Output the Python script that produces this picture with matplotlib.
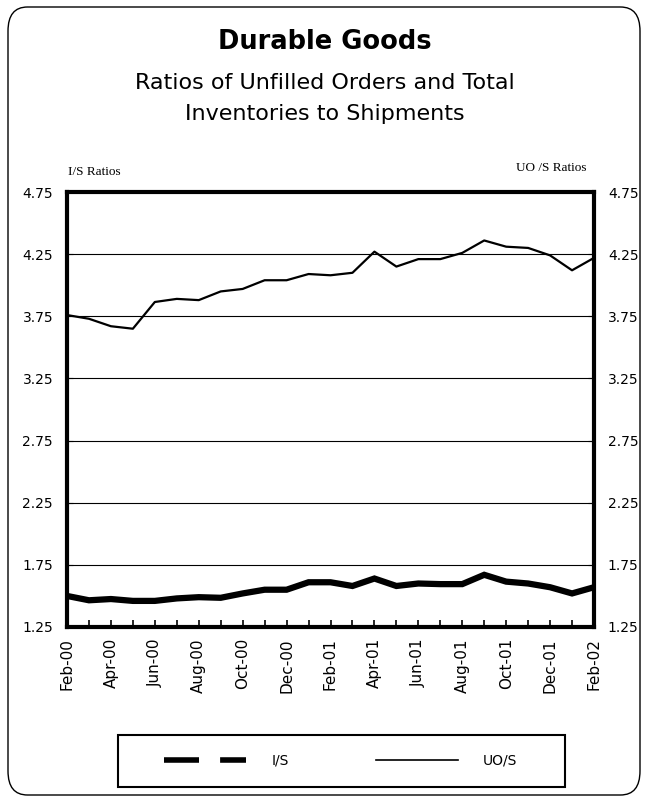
import numpy as np
import matplotlib.pyplot as plt
from matplotlib.lines import Line2D
from matplotlib.patches import FancyBboxPatch, Rectangle

months = ['Feb-00', 'Mar-00', 'Apr-00', 'May-00', 'Jun-00', 'Jul-00', 'Aug-00',
          'Sep-00', 'Oct-00', 'Nov-00', 'Dec-00', 'Jan-01', 'Feb-01', 'Mar-01',
          'Apr-01', 'May-01', 'Jun-01', 'Jul-01', 'Aug-01', 'Sep-01', 'Oct-01',
          'Nov-01', 'Dec-01', 'Jan-02', 'Feb-02']
uo_s = [3.76, 3.73, 3.67, 3.65, 3.865, 3.89, 3.88, 3.95, 3.97, 4.04, 4.04, 4.09,
        4.08, 4.10, 4.27, 4.15, 4.21, 4.21, 4.26, 4.36, 4.31, 4.30, 4.24, 4.12, 4.22]
i_s = [1.50, 1.465, 1.475, 1.46, 1.46, 1.48, 1.49, 1.485, 1.52, 1.55, 1.55, 1.61,
       1.61, 1.58, 1.64, 1.58, 1.60, 1.595, 1.595, 1.67, 1.615, 1.60, 1.57, 1.52, 1.57]
yticks = [1.25, 1.75, 2.25, 2.75, 3.25, 3.75, 4.25, 4.75]

W, H = 649, 801
fig = plt.figure(figsize=(W / 100, H / 100), dpi=100)

# rounded border round the whole figure
border = FancyBboxPatch((8 / W, 6 / H), 632 / W, 788 / H,
                        boxstyle='round,pad=0,rounding_size=0.03',
                        transform=fig.transFigure, fill=False, lw=1, ec='black')
fig.patches.append(border)

fig.text(0.5, 1 - 42 / H, 'Durable Goods', ha='center', va='center',
         fontsize=18.5, fontweight='bold')
fig.text(0.5, 1 - 83 / H, 'Ratios of Unfilled Orders and Total', ha='center',
         va='center', fontsize=16)
fig.text(0.5, 1 - 114 / H, 'Inventories to Shipments', ha='center',
         va='center', fontsize=16)
fig.text(68 / W, 1 - 172 / H, 'I/S Ratios', ha='left', va='center',
         fontsize=9.5, family='Liberation Serif')
fig.text(587 / W, 1 - 168 / H, 'UO /S Ratios', ha='right', va='center',
         fontsize=9.5, family='Liberation Serif')

ax = fig.add_axes([67 / W, 1 - 627 / H, 527 / W, 435 / H])
x = np.arange(len(months))
ax.plot(x, i_s, color='black', lw=4.5, solid_joinstyle='miter')
ax.plot(x, uo_s, color='black', lw=1.6)

ax.set_xlim(0, len(months) - 1)
ax.set_ylim(1.25, 4.75)
ax.set_yticks(yticks)
ax.set_yticklabels([f'{v:.2f}' for v in yticks])
ax.tick_params(axis='y', labelsize=10, length=4, direction='in',
               left=True, right=True, labelleft=True, labelright=True, pad=10)
ax.set_xticks(x[::2])
ax.set_xticklabels(months[::2], rotation=90, fontsize=11)
ax.set_xticks(x, minor=True)
ax.tick_params(axis='x', which='both', direction='in', length=5, width=1.2,
               pad=8)
ax.grid(axis='y', color='black', lw=0.8)
for s in ax.spines.values():
    s.set_linewidth(3)

# legend box drawn separately, wider than the legend contents
fig.patches.append(Rectangle((118 / W, 1 - 787 / H), 447 / W, 52 / H,
                             transform=fig.transFigure, fill=False,
                             lw=1.5, ec='black'))
handles = [Line2D([], [], color='black', lw=4, dashes=(6.3, 3.8)),
           Line2D([], [], color='black', lw=1.2)]
fig.legend(handles, ['I/S', 'UO/S'], loc='center',
           bbox_to_anchor=(341 / W, 1 - 761 / H), ncol=2, frameon=False,
           fontsize=10, handlelength=5.9, columnspacing=6.3,
           handletextpad=1.8, borderaxespad=0)

fig.savefig('out.png', dpi=100)
